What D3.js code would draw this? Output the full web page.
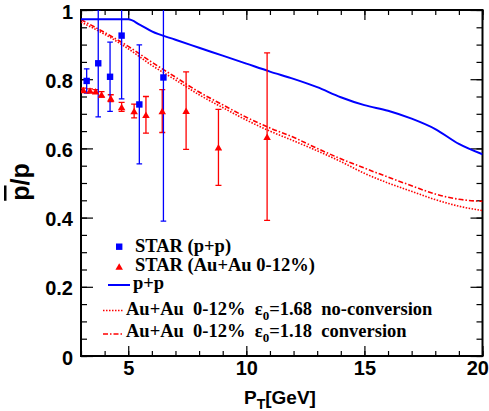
<!DOCTYPE html>
<html>
<head>
<meta charset="utf-8">
<script src="https://cdn.jsdelivr.net/npm/d3@7"></script>
<style>
  html, body { margin: 0; padding: 0; background: #fff; }
  svg { display: block; }
  .tick-label { font-family: "Liberation Sans", Arial, sans-serif; font-weight: bold; font-size: 20px; fill: #000; }
  .leg { font-family: "Liberation Serif", "Times New Roman", serif; font-weight: bold; font-size: 18.5px; fill: #000; white-space: pre; }
</style>
</head>
<body>
<svg id="chart" width="489" height="411"></svg>
<script>
// STAR p+p antiproton/proton ratio
const ppPt    = [3.24, 3.73, 4.23, 4.72, 5.47, 6.49];
const ppRatio = [0.795, 0.846, 0.807, 0.926, 0.727, 0.805];
const ppErr   = [0.035, 0.155, 0.10, 0.183, 0.172, 0.415];

// STAR Au+Au 0-12% antiproton/proton ratio
const aaPt    = [3.10, 3.38, 3.62, 3.87, 4.26, 4.72, 5.25, 5.75, 6.44, 7.45, 8.82, 10.88];
const aaRatio = [0.769, 0.767, 0.765, 0.756, 0.745, 0.720, 0.708, 0.697, 0.708, 0.709, 0.603, 0.634];
const aaErr   = [0.005, 0.005, 0.005, 0.008, 0.010, 0.013, 0.020, 0.053, 0.062, 0.112, 0.110, 0.242];

// Model curves
const curvePt      = [3, 4, 5, 6, 7, 8, 9, 10, 11, 12, 13, 14, 15, 16, 17, 18, 19, 20];
const ppModelPt    = [3, 5, 5.5, 6, 7, 8, 9, 10, 11, 12, 13, 14, 15, 16, 17, 18, 19, 20];
const ppModel      = [0.973, 0.973, 0.957, 0.938, 0.914, 0.891, 0.868, 0.845, 0.822, 0.801, 0.777, 0.748, 0.725, 0.709, 0.686, 0.656, 0.613, 0.583];
const aaNoConv     = [0.965, 0.930, 0.888, 0.840, 0.798, 0.755, 0.718, 0.682, 0.650, 0.622, 0.593, 0.562, 0.528, 0.500, 0.476, 0.452, 0.433, 0.420];
const aaConv       = [0.972, 0.935, 0.895, 0.849, 0.806, 0.763, 0.726, 0.690, 0.659, 0.632, 0.600, 0.570, 0.543, 0.517, 0.492, 0.468, 0.453, 0.447];

// Axis ticks
const xMajor = [5, 10, 15, 20];
const xMinor = d3.range(3, 20.01, 1);
const yMajor = [0, 0.2, 0.4, 0.6, 0.8, 1];
const yMinor = d3.range(0, 1.001, 0.05);

const BLUE = "#0000ff", RED = "#ff0000";
const W = 489, L = 81, R = 482.5, T = 10, B = 356;

const svg = d3.select("#chart");
const x = d3.scaleLinear().domain([3, 20]).range([L, R]);
const y = d3.scaleLinear().domain([0, 1]).range([B, T]);

svg.append("defs").append("clipPath").attr("id", "plotclip")
  .append("rect").attr("x", L).attr("y", T).attr("width", R - L).attr("height", B - T);

// ---- axes ----
function styleAxis(g) {
  g.select(".domain").remove();
  g.selectAll(".tick line").attr("stroke", "#000").attr("stroke-width", 1.2);
}
// bottom
svg.append("g").attr("transform", `translate(0,${B})`)
  .call(d3.axisBottom(x).tickValues(xMinor).tickSize(-5).tickFormat(""))
  .call(styleAxis);
const gxB = svg.append("g").attr("transform", `translate(0,${B})`)
  .call(d3.axisBottom(x).tickValues(xMajor).tickSize(-10).tickPadding(8).tickFormat(d3.format("d")))
  .call(styleAxis);
gxB.selectAll("text").attr("class", "tick-label").attr("y", 19).attr("dy", 0);
// keep the last label inside the canvas edge
gxB.selectAll(".tick").filter(d => d === 20).select("text")
  .attr("text-anchor", "end").attr("x", W - 0.5 - x(20));
// top
svg.append("g").attr("transform", `translate(0,${T})`)
  .call(d3.axisTop(x).tickValues(xMinor).tickSize(-5).tickFormat(""))
  .call(styleAxis);
svg.append("g").attr("transform", `translate(0,${T})`)
  .call(d3.axisTop(x).tickValues(xMajor).tickSize(-10).tickFormat(""))
  .call(styleAxis);
// left
svg.append("g").attr("transform", `translate(${L},0)`)
  .call(d3.axisLeft(y).tickValues(yMinor).tickSize(-6).tickFormat(""))
  .call(styleAxis);
const gyL = svg.append("g").attr("transform", `translate(${L},0)`)
  .call(d3.axisLeft(y).tickValues(yMajor).tickSize(-12).tickPadding(8).tickFormat(d => String(d)))
  .call(styleAxis);
gyL.selectAll("text").attr("class", "tick-label").attr("dy", 0).attr("y", 8);
// right
svg.append("g").attr("transform", `translate(${R},0)`)
  .call(d3.axisRight(y).tickValues(yMinor).tickSize(-6).tickFormat(""))
  .call(styleAxis);
svg.append("g").attr("transform", `translate(${R},0)`)
  .call(d3.axisRight(y).tickValues(yMajor).tickSize(-12).tickFormat(""))
  .call(styleAxis);

// frame
svg.append("rect").attr("x", L).attr("y", T).attr("width", R - L).attr("height", B - T)
  .attr("fill", "none").attr("stroke", "#000").attr("stroke-width", 2);

// ---- axis titles ----
const yTitle = svg.append("text")
  .attr("transform", `translate(29,182) rotate(-90)`)
  .attr("text-anchor", "middle")
  .style("font-family", "'Liberation Sans', Arial, sans-serif")
  .style("font-weight", "bold").style("font-size", "25px");
yTitle.append("tspan").style("text-decoration", "overline").text("p");
yTitle.append("tspan").text("/p");

const xTitle = svg.append("text")
  .attr("x", 244).attr("y", 404)
  .style("font-family", "'Liberation Sans', Arial, sans-serif")
  .style("font-weight", "bold").style("font-size", "19px");
xTitle.append("tspan").text("P");
xTitle.append("tspan").attr("dy", 5).style("font-size", "14px").text("T");
xTitle.append("tspan").attr("dy", -5).text("[GeV]");

// ---- plot content ----
const plot = svg.append("g").attr("clip-path", "url(#plotclip)");

const line = d3.line().x(d => x(d[0])).y(d => y(d[1])).curve(d3.curveMonotoneX);

plot.append("path").datum(curvePt.map((p, i) => [p, aaNoConv[i]]))
  .attr("d", line).attr("fill", "none").attr("stroke", RED)
  .attr("stroke-width", 1.6).attr("stroke-dasharray", "1.5,1.5");
plot.append("path").datum(curvePt.map((p, i) => [p, aaConv[i]]))
  .attr("d", line).attr("fill", "none").attr("stroke", RED)
  .attr("stroke-width", 1.6).attr("stroke-dasharray", "5,2,1.5,2");
plot.append("path").datum(ppModelPt.map((p, i) => [p, ppModel[i]]))
  .attr("d", line).attr("fill", "none").attr("stroke", BLUE).attr("stroke-width", 2);

function errorBars(pts, vals, errs, color, cap) {
  const g = plot.append("g").attr("stroke", color).attr("stroke-width", 1.3);
  pts.forEach((p, i) => {
    const cx = x(p), lo = y(vals[i] - errs[i]), hi = y(vals[i] + errs[i]);
    g.append("line").attr("x1", cx).attr("x2", cx).attr("y1", lo).attr("y2", hi);
    g.append("line").attr("x1", cx - cap).attr("x2", cx + cap).attr("y1", lo).attr("y2", lo);
    g.append("line").attr("x1", cx - cap).attr("x2", cx + cap).attr("y1", hi).attr("y2", hi);
  });
}
errorBars(aaPt, aaRatio, aaErr, RED, 3);
errorBars(ppPt, ppRatio, ppErr, BLUE, 2.8);

const tri = (cx, cy, w, h) => `M${cx - w / 2},${cy + h / 2}L${cx + w / 2},${cy + h / 2}L${cx},${cy - h / 2}Z`;

plot.append("g").selectAll("path").data(aaPt).join("path")
  .attr("d", (p, i) => tri(x(p), y(aaRatio[i]), 7.5, 6.5)).attr("fill", RED);
plot.append("g").selectAll("rect").data(ppPt).join("rect")
  .attr("x", p => x(p) - 3.2).attr("y", (p, i) => y(ppRatio[i]) - 3.2)
  .attr("width", 6.4).attr("height", 6.4).attr("fill", BLUE);

// ---- legend ----
const leg = svg.append("g");
leg.append("rect").attr("x", 116).attr("y", 243.5).attr("width", 6.4).attr("height", 6.4).attr("fill", BLUE);
leg.append("text").attr("class", "leg").attr("x", 135).attr("y", 252).text("STAR (p+p)");
leg.append("path").attr("d", tri(119.2, 266.5, 7.5, 6.5)).attr("fill", RED);
leg.append("text").attr("class", "leg").attr("x", 135).attr("y", 271).text("STAR (Au+Au 0-12%)");
leg.append("line").attr("x1", 108).attr("x2", 130).attr("y1", 285).attr("y2", 285)
  .attr("stroke", BLUE).attr("stroke-width", 2);
leg.append("text").attr("class", "leg").attr("x", 133).attr("y", 289).text("p+p");

function epsRow(yLine, yText, dash, val, tail) {
  leg.append("line").attr("x1", 103).attr("x2", 123).attr("y1", yLine).attr("y2", yLine)
    .attr("stroke", RED).attr("stroke-width", 1.6).attr("stroke-dasharray", dash);
  const t = leg.append("text").attr("class", "leg").attr("x", 126).attr("y", yText);
  t.append("tspan").text("Au+Au  0-12%  \u03b5");
  t.append("tspan").attr("dy", 5).style("font-size", "13px").text("0");
  t.append("tspan").attr("dy", -5).text(`=${val}  ${tail}`);
}
epsRow(310.5, 314.5, "1.5,1.5", "1.68", "no-conversion");
epsRow(334, 337, "5,2,1.5,2", "1.18", "conversion");
</script>
</body>
</html>
